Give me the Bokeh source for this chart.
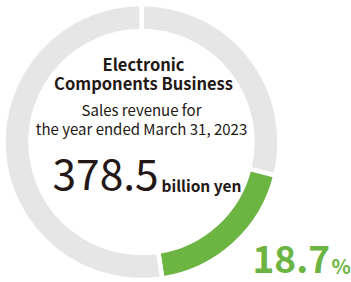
import numpy as np
from bokeh.plotting import figure
from bokeh.models import Range1d
from bokeh.core.properties import value
from bokeh.embed import file_html
from bokeh.resources import INLINE

# Data
segments = ["Other (before)", "Electronic Components", "Other (after)"]
shares = [28.9, 18.7, 52.4]
seg_colors = ["#e6e6e6", "#6cb543", "#e6e6e6"]

title_lines = ["Electronic", "Components Business"]
sub_lines = ["Sales revenue for", "the year ended March 31, 2023"]
revenue_text = "378.5"
unit_text = "billion yen"
share_text = "18.7"
pct_text = "%"

W, H = 351, 282
FONT = "Noto Sans CJK JP"
DARK = "#231815"
GREEN = "#6cb543"

p = figure(width=W, height=H, output_backend="svg", toolbar_location=None,
           x_range=Range1d(0, W), y_range=Range1d(0, H),
           min_border=0, outline_line_color=None)
p.axis.visible = False
p.grid.visible = False
p.background_fill_color = "white"
p.border_fill_color = "white"

def Y(img_y):
    return H - img_y

cx, cy = 141, Y(141.5)
r_out, r_in = 136, 113

fr = np.array(shares) / sum(shares) * 2 * np.pi
ends = np.cumsum(fr)
starts = ends - fr
p.annular_wedge(x=[cx] * 3, y=[cy] * 3, inner_radius=r_in - 2, outer_radius=r_out + 2,
                start_angle=list(np.pi / 2 - starts), end_angle=list(np.pi / 2 - ends),
                direction="clock", fill_color=seg_colors, line_color="white", line_width=4.5)

# Texts
p.text(x=[143, 143], y=[Y(63.8), Y(82.5)], text=title_lines, text_font=value(FONT),
       text_font_style="bold", text_font_size="16.5px", text_align="center",
       text_baseline="middle", text_color=DARK)
p.text(x=[141, 141], y=[Y(108.6), Y(127.6)], text=sub_lines, text_font=value(FONT),
       text_font_size="15px", text_align="center", text_baseline="middle", text_color=DARK)
p.text(x=[52], y=[Y(173.5)], text=[revenue_text], text_font=value(FONT),
       text_font_size="42.5px", text_align="left", text_baseline="middle", text_color=DARK)
p.text(x=[161], y=[Y(184.5)], text=[unit_text], text_font=value(FONT), text_font_style="bold",
       text_font_size="15.5px", text_align="left", text_baseline="middle", text_color=DARK)
p.text(x=[252], y=[Y(258.5)], text=[share_text], text_font=value(FONT), text_font_style="bold",
       text_font_size="37px", text_align="left", text_baseline="middle", text_color=GREEN)
p.text(x=[331], y=[Y(265)], text=[pct_text], text_font=value(FONT), text_font_style="bold",
       text_font_size="20px", text_align="left", text_baseline="middle", text_color=GREEN)

open("out.html", "w").write(file_html(p, INLINE))
